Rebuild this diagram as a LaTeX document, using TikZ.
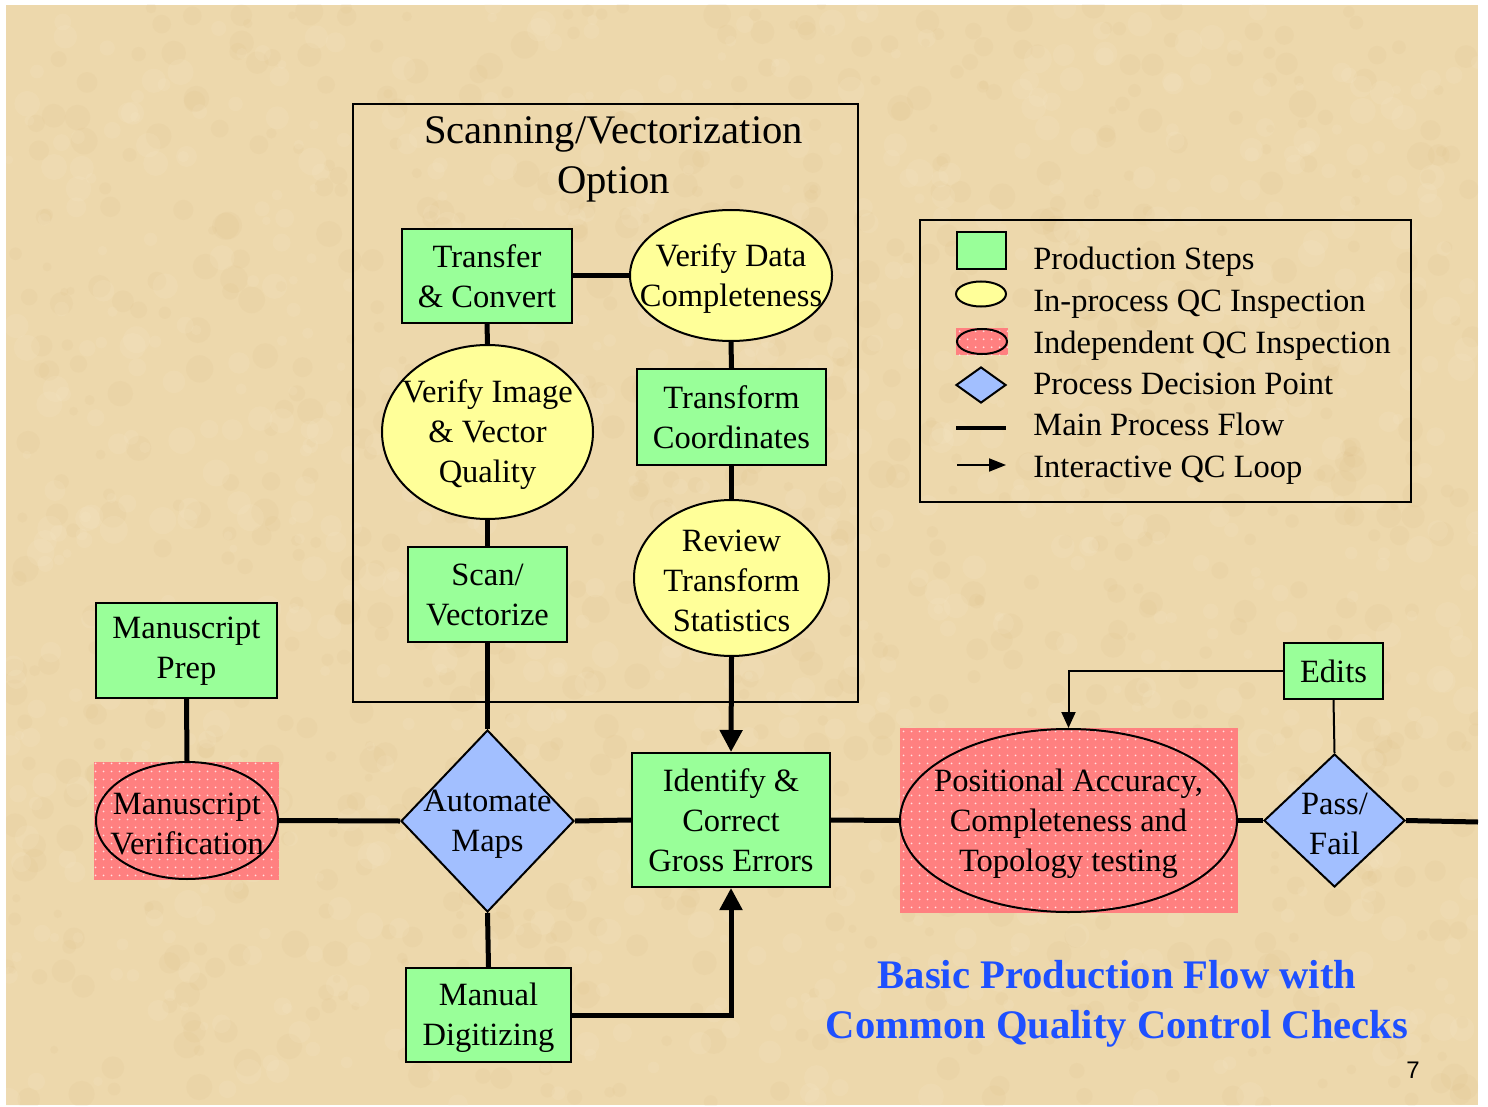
\documentclass[tikz,border=0pt]{standalone}
\usepackage{fontspec}
\setmainfont{Liberation Serif}
\newfontfamily\pgnumfont{Liberation Sans}
\usetikzlibrary{shapes.geometric, arrows.meta, patterns.meta}
\definecolor{stepgreen}{HTML}{99FF99}
\definecolor{qcyellow}{HTML}{FFFF99}
\definecolor{indpink}{HTML}{FF8080}
\definecolor{dotwhite}{HTML}{FFE0E0}
\definecolor{decblue}{HTML}{A2BFFF}
\definecolor{titleblue}{HTML}{1E50FF}
\definecolor{parch}{HTML}{EDD8AC}
\definecolor{parchdark}{HTML}{D6B47A}
\definecolor{parchlight}{HTML}{FAEDD0}
\newcommand\dgfont{\fontsize{16.25}{20}\selectfont}
\newcommand\dgtitlefont{\fontsize{20.3}{25}\selectfont}
\begin{document}
\begin{tikzpicture}[x=0.5pt, y=-0.5pt,
  stepbox/.style={draw, line width=1pt, fill=stepgreen, inner sep=0pt},
  qcell/.style={ellipse, draw, line width=1pt, fill=qcyellow, inner sep=0pt},
  indell/.style={ellipse, draw, line width=1pt, inner sep=0pt},
  pinkbg/.style={fill=indpink, inner sep=0pt, postaction={pattern={Dots[radius=0.55pt, distance=4pt]}, pattern color=dotwhite}},
  decis/.style={diamond, draw, line width=1pt, fill=decblue, inner sep=0pt},
  rlbl/.style={align=center, font=\dgfont, inner sep=0pt, yshift=-0.3pt},
  elbl/.style={align=center, font=\dgfont, inner sep=0pt, yshift=-1.5pt},
  mainflow/.style={line width=2.5pt},
  loopflow/.style={line width=1pt},
  legtext/.style={anchor=base west, font=\dgfont, inner sep=0pt},
]
\useasboundingbox (0,0) rectangle (1488,1107);
% background
\fill[white] (0,0) rectangle (1488,1107);
\begin{scope}
  \clip (6,5) rectangle (1478,1105);
  \fill[parch] (6,5) rectangle (1478,1105);
  \pgfmathsetseed{11}
  \foreach \i in {1,...,900} {
    \pgfmathsetmacro\xx{6+1472*rnd}
    \pgfmathsetmacro\yy{5+1100*rnd}
    \pgfmathsetmacro\rr{2+5*rnd}
    \fill[parchdark, opacity=0.09] (\xx,\yy) circle[radius=\rr pt];
  }
  \foreach \i in {1,...,900} {
    \pgfmathsetmacro\xx{6+1472*rnd}
    \pgfmathsetmacro\yy{5+1100*rnd}
    \pgfmathsetmacro\rr{2+5*rnd}
    \fill[parchlight, opacity=0.14] (\xx,\yy) circle[radius=\rr pt];
  }
\end{scope}

% Scanning / Vectorization group box
\node[draw, line width=1pt, minimum width=252.5pt, minimum height=299pt, inner sep=0pt] (sb) at (605.5,403) {};
\node[anchor=base, font=\dgtitlefont, inner sep=0pt] (sbt1) at (613.5,144) {Scanning/Vectorization};
\node[anchor=base, font=\dgtitlefont, inner sep=0pt] (sbt2) at (613.5,194) {Option};

% production steps
\node[stepbox, minimum width=85pt, minimum height=47pt] (tc) at (487,276) {};
\node[rlbl] (tct) at (tc) {Transfer\\\& Convert};
\node[stepbox, minimum width=94.5pt, minimum height=48pt] (trc) at (731.5,417) {};
\node[rlbl] (trct) at (trc) {Transform\\Coordinates};
\node[stepbox, minimum width=79.5pt, minimum height=47.5pt] (sv) at (487.5,594.5) {};
\node[rlbl] (svt) at (sv) {Scan/\\Vectorize};
\node[stepbox, minimum width=90.5pt, minimum height=47.5pt] (mp) at (186.5,650.5) {};
\node[rlbl] (mpt) at (mp) {Manuscript\\Prep};
\node[stepbox, minimum width=99pt, minimum height=67pt] (id) at (731,820) {};
\node[rlbl] (idt) at (id) {Identify \&\\Correct\\Gross Errors};
\node[stepbox, minimum width=82.5pt, minimum height=47pt] (md) at (488.5,1015) {};
\node[elbl] (mdt) at (md) {Manual\\Digitizing};
\node[stepbox, minimum width=49.5pt, minimum height=28pt] (ed) at (1333.5,671) {};
\node[rlbl] (edt) at (ed) {Edits};

% in-process QC
\node[qcell, minimum width=101pt, minimum height=65.5pt] (vd) at (731,275.5) {};
\node[elbl] (vdt) at (vd) {Verify Data\\Completeness};
\node[qcell, minimum width=105.5pt, minimum height=87pt] (vi) at (487.5,432) {};
\node[elbl] (vit) at (vi) {Verify Image\\\& Vector\\Quality};
\node[qcell, minimum width=97.5pt, minimum height=78pt] (rt) at (731.5,578) {};
\node[elbl] (rtt) at (rt) {Review\\Transform\\Statistics};

% independent QC
\node[pinkbg, minimum width=92.5pt, minimum height=59pt] (mvbg) at (186.5,821) {};
\node[indell, minimum width=91pt, minimum height=58.5pt] (mv) at (187,820.5) {};
\node[elbl] (mvt) at (mv) {Manuscript\\Verification};
\node[pinkbg, minimum width=169pt, minimum height=92.5pt] (pabg) at (1069,820.5) {};
\node[indell, minimum width=168.5pt, minimum height=91.5pt] (pa) at (1068.5,820.5) {};
\node[elbl] (pat) at (pa) {Positional Accuracy,\\Completeness and\\Topology testing};

% decision points
\node[decis, minimum width=86.5pt, minimum height=91pt] (am) at (487.5,821) {};
\node[elbl] (amt) at (am) {Automate\\Maps};
\node[decis, minimum width=70.5pt, minimum height=66.5pt] (pf) at (1334.5,820.5) {};
\node[elbl] (pft) at (pf) {Pass/\\Fail};

\coordinate (out) at (1478,822);

% main flow
\draw[mainflow] (tc.east) -- (vd.west |- tc.east);
\draw[mainflow] (tc.south) -- (vi.north);
\draw[mainflow] (vd.south) -- (trc.north);
\draw[mainflow] (trc.south) -- (rt.north);
\draw[mainflow] (vi.south) -- (sv.north);
\draw[mainflow] (sv.south) -- (am.north);
\draw[mainflow, -{Triangle[length=11pt, width=11pt]}] (rt.south) -- (id.north);
\draw[mainflow] (mp.south) -- (mv.north);
\draw[mainflow] (mv.east) -- (am.west);
\draw[mainflow] (am.east) -- (id.west);
\draw[mainflow] (id.east) -- (pa.west);
\draw[mainflow] (pa.east) -- (pf.west);
\draw[mainflow] (pf.east) -- (out);
\draw[mainflow] (am.south) -- (md.north);
\draw[mainflow, -{Triangle[length=11pt, width=11pt]}] (md.east) -| (id.south);

% interactive QC loop
\draw[loopflow, -{Triangle[length=8pt, width=7pt]}] (ed.west) -| (pa.north);
\draw[loopflow] (pf.north) -- (ed.south);

% legend
\node[draw, line width=1pt, minimum width=245.5pt, minimum height=141pt, inner sep=0pt] (lg) at (1165.5,361) {};
\node[draw, line width=1pt, fill=stepgreen, minimum width=24.5pt, minimum height=18.5pt, inner sep=0pt] (lg1) at (981.5,250.5) {};
\node[qcell, minimum width=25pt, minimum height=12.5pt] (lg2) at (981,294) {};
\node[pinkbg, minimum width=26pt, minimum height=13.5pt] (lg3bg) at (982,341.5) {};
\node[indell, minimum width=25pt, minimum height=12.5pt] (lg3) at (982,341.5) {};
\node[decis, minimum width=25pt, minimum height=18pt] (lg4) at (981,385) {};
\coordinate (lg5a) at (956,428);
\coordinate (lg5b) at (1006,428);
\draw[line width=2pt] (lg5a) -- (lg5b);
\coordinate (lg6a) at (957,465);
\coordinate (lg6b) at (1006,465);
\draw[loopflow, -{Triangle[length=8.5pt, width=6.5pt]}] (lg6a) -- (lg6b);
\node[legtext] (lt1) at (1033,270) {Production Steps};
\node[legtext] (lt2) at (1033,311.5) {In-process QC Inspection};
\node[legtext] (lt3) at (1033,353) {Independent QC Inspection};
\node[legtext] (lt4) at (1033,394.5) {Process Decision Point};
\node[legtext] (lt5) at (1033,435.5) {Main Process Flow};
\node[legtext] (lt6) at (1033,477) {Interactive QC Loop};

% title
\node[anchor=base, font=\dgtitlefont\bfseries, text=titleblue, inner sep=0pt] (ti1) at (1117,988) {Basic Production Flow with};
\node[anchor=base, font=\dgtitlefont\bfseries, text=titleblue, inner sep=0pt] (ti2) at (1117,1038) {Common Quality Control Checks};

% page number
\node[font=\pgnumfont\fontsize{12}{14}\selectfont, inner sep=0pt] (pg) at (1413,1070) {7};
\end{tikzpicture}
\end{document}
